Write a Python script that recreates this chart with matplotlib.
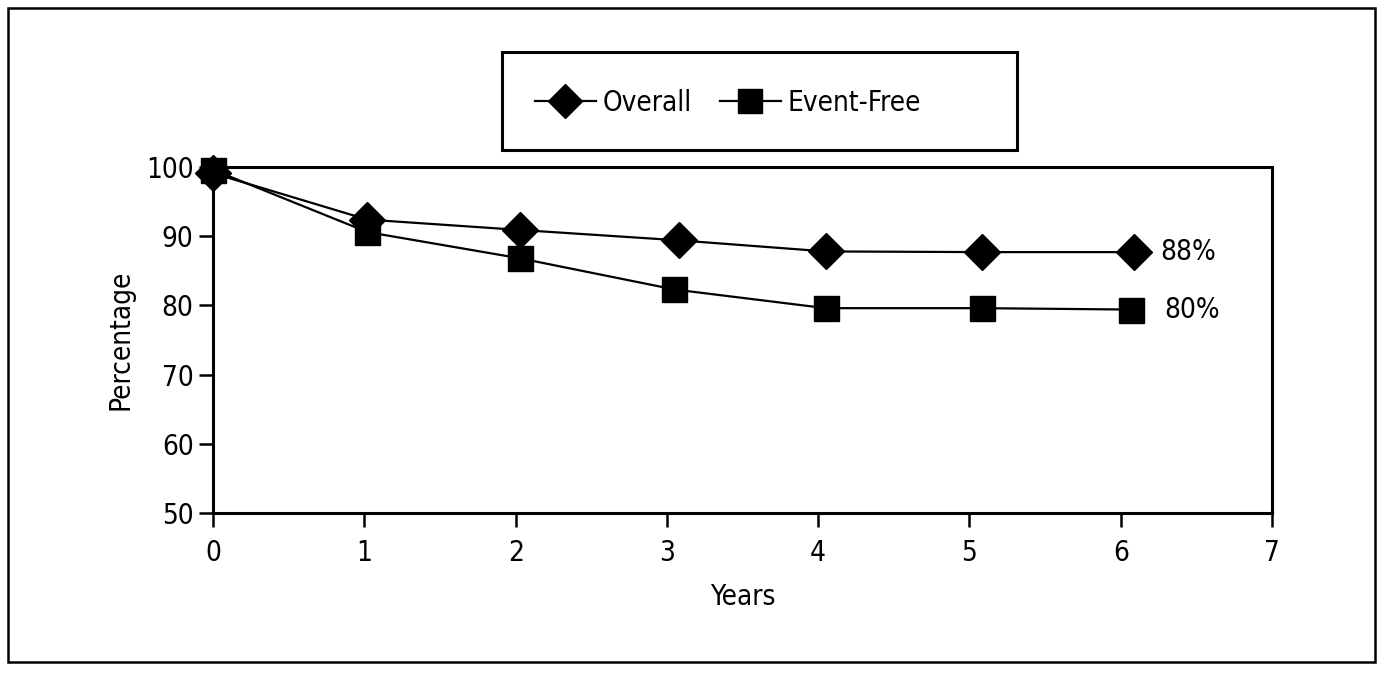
import matplotlib
matplotlib.use("Agg")
import matplotlib.pyplot as plt
from matplotlib.patches import Rectangle
from matplotlib.lines import Line2D

plt.rcParams['font.family'] = ['Liberation Sans Narrow', 'DejaVu Sans']
plt.rcParams['font.stretch'] = 'condensed'

years_overall = [0, 1.02, 2.03, 3.08, 4.05, 5.08, 6.09]
overall = [99.1, 92.4, 90.9, 89.4, 87.8, 87.7, 87.7]
years_event = [0, 1.02, 2.03, 3.05, 4.05, 5.08, 6.07]
event_free = [99.6, 90.6, 86.8, 82.3, 79.6, 79.6, 79.4]
end_labels = ["88%", "80%"]
series_names = ["Overall", "Event-Free"]
x_ticks = [0, 1, 2, 3, 4, 5, 6, 7]
y_ticks = [50, 60, 70, 80, 90, 100]

W, H = 1385, 676
fig = plt.figure(figsize=(W / 100, H / 100), dpi=100)
ax = fig.add_axes([213 / W, 1 - 513 / H, (1272 - 213) / W, (513 - 167) / H])

ax.plot(years_overall, overall, color='black', lw=1.6, marker='D', ms=18,
        clip_on=False, zorder=3)
ax.plot(years_event, event_free, color='black', lw=1.6, marker='s', ms=18,
        clip_on=False, zorder=3)

ax.set_xlim(0, 7)
ax.set_ylim(50, 100)
ax.set_xticks(x_ticks)
ax.set_yticks(y_ticks)
ax.tick_params(axis='both', direction='out', length=10, width=1.8,
               labelsize=20, color='black')
ax.tick_params(axis='x', pad=9)
ax.tick_params(axis='y', pad=4)
for s in ax.spines.values():
    s.set_linewidth(2.2)
    s.set_color('black')

ax.set_xlabel("Years", fontsize=20, labelpad=11)
ax.set_ylabel("Percentage", fontsize=20, labelpad=8)

ax.annotate(end_labels[0], xy=(years_overall[-1], overall[-1]), xytext=(19, 0),
            textcoords='offset points', fontsize=20, va='center', ha='left')
ax.annotate(end_labels[1], xy=(years_event[-1], event_free[-1]), xytext=(24, 0),
            textcoords='offset points', fontsize=20, va='center', ha='left')

# legend box
fig.patches.append(Rectangle((502 / W, 1 - 150 / H), (1017 - 502) / W, (150 - 52) / H,
                             transform=fig.transFigure, fill=False, lw=2.2,
                             edgecolor='black'))
handles = [Line2D([], [], color='black', lw=1.6, marker='D', ms=17.5),
           Line2D([], [], color='black', lw=1.6, marker='s', ms=17.5)]
fig.legend(handles, series_names, loc='center', bbox_to_anchor=(728 / W, 1 - 103 / H),
           ncol=2, frameon=False, fontsize=20, handlelength=2.2,
           handletextpad=0.25, columnspacing=1.0)

# outer border
fig.patches.append(Rectangle((8 / W, 1 - 662 / H), (1375 - 8) / W, (662 - 8) / H,
                             transform=fig.transFigure, fill=False, lw=1.8,
                             edgecolor='black'))

fig.savefig("out.png", dpi=100)
